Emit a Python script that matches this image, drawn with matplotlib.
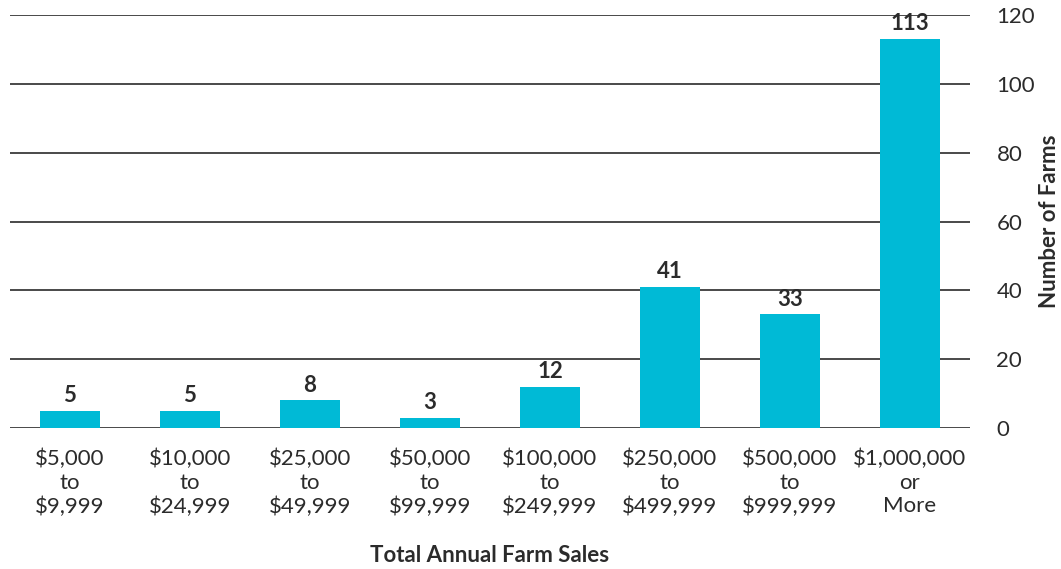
import matplotlib
matplotlib.use("Agg")
import matplotlib.pyplot as plt

categories = ["$5,000\nto\n$9,999", "$10,000\nto\n$24,999", "$25,000\nto\n$49,999",
              "$50,000\nto\n$99,999", "$100,000\nto\n$249,999", "$250,000\nto\n$499,999",
              "$500,000\nto\n$999,999", "$1,000,000\nor\nMore"]
farms = [5, 5, 8, 3, 12, 41, 33, 113]
yticks = [0, 20, 40, 60, 80, 100, 120]

plt.rcParams['font.family'] = ['Lato', 'DejaVu Sans']
txt = '#2b2b2b'
fs = 16

fig = plt.figure(figsize=(10.61, 5.69), dpi=100)
ax = fig.add_axes([10/1061, 1-428/569, 960/1061, 413/569])
x = list(range(len(farms)))
ax.bar(x, farms, width=0.5, color='#00BAD6', zorder=2)
for xi, v in zip(x, farms):
    ax.text(xi, v + 1.4, str(v), ha='center', va='bottom', fontsize=fs,
            fontweight='bold', color=txt)

ax.set_xlim(-0.5, 7.5)
ax.set_ylim(0, 120)
ax.set_yticks(yticks)
ax.yaxis.tick_right()
ax.tick_params(axis='y', length=0, pad=19, labelsize=fs, labelcolor=txt)
ax.tick_params(axis='x', length=0, pad=15, labelsize=fs, labelcolor=txt)
ax.set_xticks(x)
ax.set_xticklabels(categories, linespacing=1.22)
ax.grid(axis='y', color='#2a2a2a', linewidth=1.2, zorder=1)
for s in ax.spines.values():
    s.set_visible(False)
fig.text(1049/1061, 1-221/569, 'Number of Farms', rotation=90, ha='center', va='center',
         fontsize=fs, fontweight='bold', color=txt)
fig.text(490/1061, 1-555/569, 'Total Annual Farm Sales', ha='center', va='center',
         fontsize=fs, fontweight='bold', color=txt)
fig.savefig('out.png', dpi=100)
